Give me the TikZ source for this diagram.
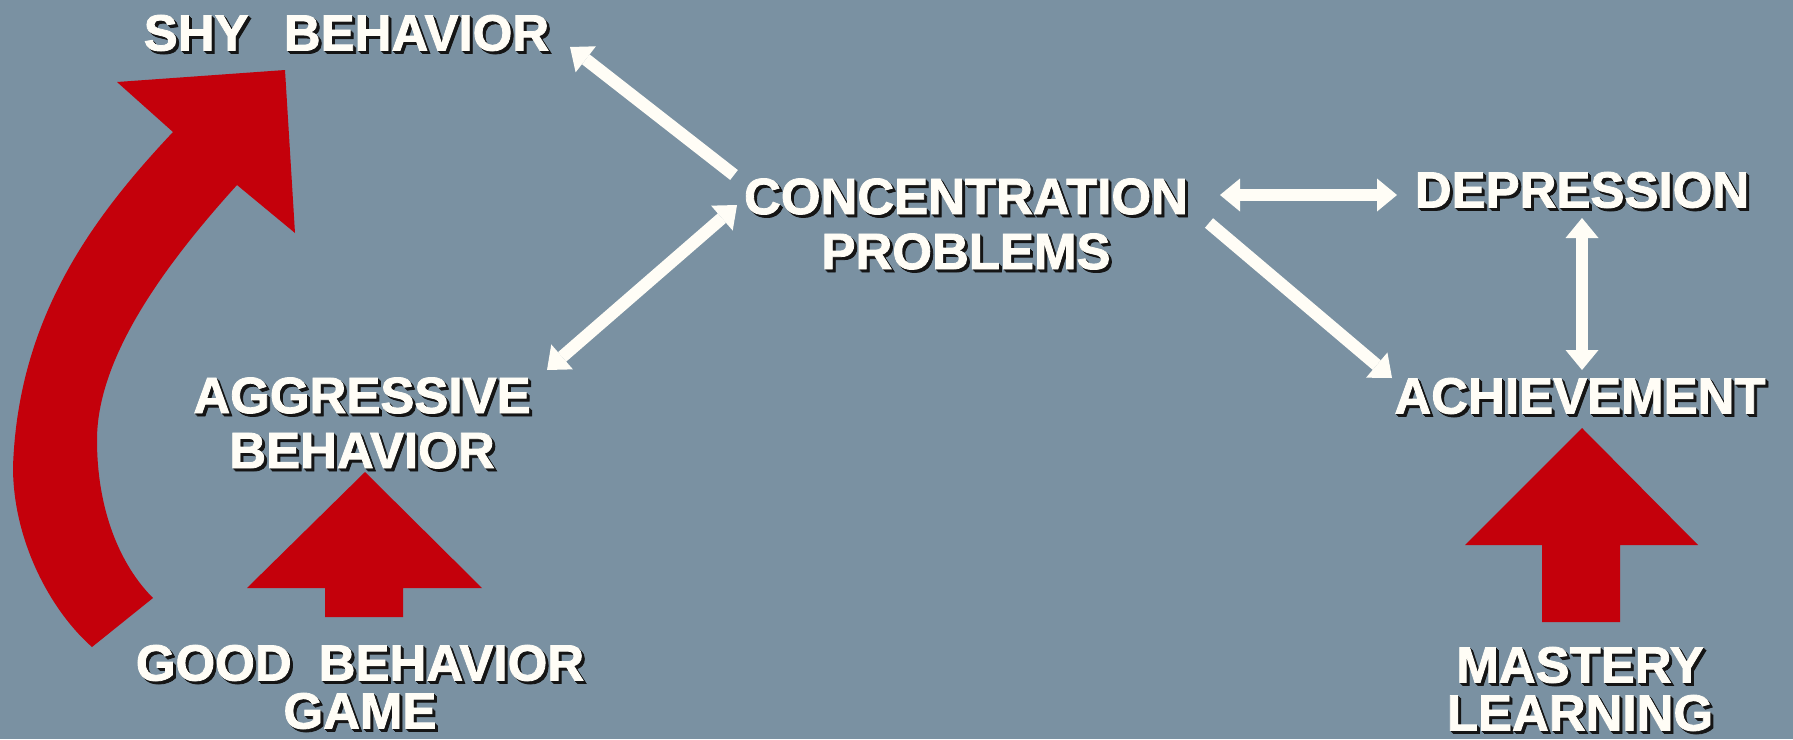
\documentclass[tikz,border=0pt]{standalone}
\usepackage{fontspec}
\setmainfont{Liberation Sans}
\newfontfamily\heavy{Liberation Sans Bold}[FakeBold=1.6]
\usetikzlibrary{arrows.meta,calc}
\definecolor{bgc}{HTML}{7A91A2}
\definecolor{redc}{HTML}{C4000B}
\definecolor{txtc}{HTML}{FFFDF6}
\definecolor{shc}{HTML}{151515}
\tikzset{
  lbl/.style={font=\heavy\fontsize{51}{55}\selectfont, align=center, inner sep=0pt, text=txtc},
  lbltight/.style={font=\heavy\fontsize{51}{48}\selectfont},
  lblshadow/.style={text=shc},
  wtip/.tip={Triangle[length=20pt,width=33pt,line width=0pt]},
  warrow/.style={draw=txtc, line width=12.5pt, -wtip},
  wdarrow/.style={draw=txtc, line width=12.5pt, wtip-wtip},
  redarr/.style={fill=redc}
}
\newcommand{\mylabel}[4]{%
  \foreach \k in {1,2,3}{\node[lbl,#3,lblshadow,shift={(\k,\k)}] (#1-s\k) at (#2) {#4};}
  \node[lbl,#3] (#1) at (#2) {#4};
}
\begin{document}
\begin{tikzpicture}[x=1pt,y=-1pt]
\useasboundingbox (0,0) rectangle (1793,739);
\fill[bgc] (0,0) rectangle (1793,739);

% curved red arrow (Good Behavior Game -> Shy Behavior)
\fill[redc] (153,598) -- (92,647) .. controls (50,610) and (13,540) .. (13,467)
  .. controls (18,320) and (90,220) .. (173,132) -- (117,82) -- (285,70) -- (295,233) -- (237,185)
  .. controls (160,270) and (97,360) .. (97,440) .. controls (97,510) and (120,565) .. (153,598) -- cycle;

% labels
\mylabel{shy}{346.5,33}{}{SHY\hspace{0.69em}BEHAVIOR}
\mylabel{conc}{966,224}{}{CONCENTRATION\\PROBLEMS}
\mylabel{aggr}{362,423}{}{AGGRESSIVE\\BEHAVIOR}
\mylabel{gbg}{360,687}{lbltight}{GOOD\hspace{0.53em}BEHAVIOR\\GAME}
\mylabel{dep}{1582,190}{}{DEPRESSION}
\mylabel{ach}{1580,396}{}{ACHIEVEMENT}
\mylabel{mast}{1580,689}{lbltight}{MASTERY\\LEARNING}

% straight red block arrows
\coordinate (lab) at ([shift={(4,-70)}]gbg.center);
\fill[redarr] ([shift={(-39,0)}]lab) -- ([shift={(-39,-29)}]lab) -- ([shift={(-117,-29)}]lab)
  -- ([shift={(1,-145)}]lab) -- ([shift={(118,-29)}]lab) -- ([shift={(39,-29)}]lab)
  -- ([shift={(39,0)}]lab) -- cycle;
\coordinate (rab) at ([shift={(1,-67)}]mast.center);
\fill[redarr] ([shift={(-39,0)}]rab) -- ([shift={(-39,-77)}]rab) -- ([shift={(-116,-77)}]rab)
  -- ([shift={(1,-194)}]rab) -- ([shift={(117,-77)}]rab) -- ([shift={(39,-77)}]rab)
  -- ([shift={(39,0)}]rab) -- cycle;

% white connectors
\draw[warrow] ([shift={(-232,-49)}]conc.center) -- ([shift={(223.5,14)}]shy.center);
\draw[wdarrow] ([shift={(-229,-19)}]conc.center) -- ([shift={(185,-53)}]aggr.center);
\draw[wdarrow] ([shift={(254,-29)}]conc.center) -- ([shift={(-185,5)}]dep.center);
\draw[warrow] ([shift={(243,-1)}]conc.center) -- ([shift={(-188,-18)}]ach.center);
\draw[wdarrow] ([shift={(0,28)}]dep.center) -- ([shift={(2,-26)}]ach.center);
\end{tikzpicture}
\end{document}
